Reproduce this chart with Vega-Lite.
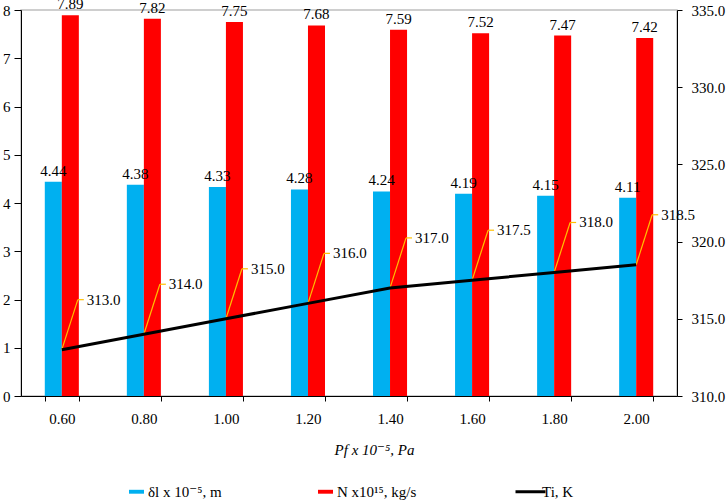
{
  "$schema": "https://vega.github.io/schema/vega-lite/v6.json",
  "width": 656,
  "height": 386,
  "autosize": {"type": "none"},
  "padding": {"left": 21, "top": 10, "right": 49, "bottom": 106},
  "config": {
    "font": "'Liberation Serif', 'DejaVu Serif', serif",
    "text": {"font": "'Liberation Serif', 'DejaVu Serif', serif"},
    "view": {"stroke": "#bfbfbf", "strokeWidth": 1.5},
    "axis": {
      "labelFont": "'Liberation Serif', 'DejaVu Serif', serif",
      "titleFont": "'Liberation Serif', 'DejaVu Serif', serif",
      "labelFontSize": 15,
      "labelColor": "black",
      "domainColor": "black",
      "tickColor": "black",
      "grid": false
    },
    "legend": {
      "labelFont": "'Liberation Serif', 'DejaVu Serif', serif"
    }
  },
  "datasets": {
    "bars": [
      {"P": "0.60", "series": "δl  x 10⁻⁵, m", "value": 4.44},
      {"P": "0.80", "series": "δl  x 10⁻⁵, m", "value": 4.38},
      {"P": "1.00", "series": "δl  x 10⁻⁵, m", "value": 4.33},
      {"P": "1.20", "series": "δl  x 10⁻⁵, m", "value": 4.28},
      {"P": "1.40", "series": "δl  x 10⁻⁵, m", "value": 4.24},
      {"P": "1.60", "series": "δl  x 10⁻⁵, m", "value": 4.19},
      {"P": "1.80", "series": "δl  x 10⁻⁵, m", "value": 4.15},
      {"P": "2.00", "series": "δl  x 10⁻⁵, m", "value": 4.11},
      {"P": "0.60", "series": "N x10¹⁵, kg/s", "value": 7.89},
      {"P": "0.80", "series": "N x10¹⁵, kg/s", "value": 7.82},
      {"P": "1.00", "series": "N x10¹⁵, kg/s", "value": 7.75},
      {"P": "1.20", "series": "N x10¹⁵, kg/s", "value": 7.68},
      {"P": "1.40", "series": "N x10¹⁵, kg/s", "value": 7.59},
      {"P": "1.60", "series": "N x10¹⁵, kg/s", "value": 7.52},
      {"P": "1.80", "series": "N x10¹⁵, kg/s", "value": 7.47},
      {"P": "2.00", "series": "N x10¹⁵, kg/s", "value": 7.42}
    ],
    "ti": [
      {"P": "0.60", "Ti": 313.0},
      {"P": "0.80", "Ti": 314.0},
      {"P": "1.00", "Ti": 315.0},
      {"P": "1.20", "Ti": 316.0},
      {"P": "1.40", "Ti": 317.0},
      {"P": "1.60", "Ti": 317.5},
      {"P": "1.80", "Ti": 318.0},
      {"P": "2.00", "Ti": 318.5}
    ]
  },
  "encoding": {
    "x": {
      "field": "P",
      "type": "nominal",
      "sort": null,
      "scale": {"paddingInner": 0.585, "paddingOuter": 0.29},
      "axis": {
        "title": "Pf x 10⁻⁵, Pa",
        "titleFontSize": 15,
        "titleFontStyle": "italic",
        "titleFontWeight": "normal",
        "titleColor": "black",
        "titlePadding": 16,
        "titleX": 353,
        "labelAngle": 0,
        "labelPadding": 10,
        "tickBand": "extent",
        "tickSize": 5
      }
    }
  },
  "layer": [
    {
      "data": {"name": "bars"},
      "encoding": {
        "xOffset": {"field": "series", "type": "nominal", "sort": null},
        "y": {
          "field": "value",
          "type": "quantitative",
          "title": null,
          "scale": {"domain": [0, 8]},
          "axis": {"orient": "left", "values": [0, 1, 2, 3, 4, 5, 6, 7, 8], "tickSize": 7, "labelPadding": 4}
        }
      },
      "layer": [
        {
          "mark": {"type": "bar"},
          "encoding": {
            "color": {
              "field": "series",
              "type": "nominal",
              "scale": {
                "domain": ["δl  x 10⁻⁵, m", "N x10¹⁵, kg/s", "Ti, K"],
                "range": ["#00B0F0", "#FF0000", "#000000"]
              },
              "legend": {
                "title": null,
                "orient": "none",
                "direction": "horizontal",
                "legendX": 108,
                "legendY": 474,
                "labelFontSize": 15,
                "labelColor": "black",
                "symbolSize": 900,
                "labelOffset": 4,
                "columnPadding": 92,
                "encode": {
                  "symbols": {
                    "update": {
                      "shape": {"signal": "datum.value === 'Ti, K' ? 'stroke' : 'M-0.5,-0.13H0.5V0.13H-0.5Z'"},
                      "fill": {"signal": "datum.value === 'Ti, K' ? 'transparent' : scale('color', datum.value)"},
                      "stroke": {"signal": "scale('color', datum.value)"},
                      "strokeWidth": {"signal": "datum.value === 'Ti, K' ? 3 : 0"},
                      "opacity": {"value": 1}
                    }
                  }
                }
              }
            }
          }
        },
        {
          "mark": {"type": "text", "baseline": "alphabetic", "dy": -6, "fontSize": 15, "color": "black"},
          "encoding": {
            "text": {"field": "value", "type": "quantitative", "format": ".2f"}
          }
        }
      ]
    },
    {
      "data": {"name": "ti"},
      "encoding": {
        "y": {
          "field": "Ti",
          "type": "quantitative",
          "title": null,
          "scale": {"domain": [310, 335]},
          "axis": {"orient": "right", "values": [310, 315, 320, 325, 330, 335], "format": ".1f", "tickSize": 5, "labelPadding": 9}
        }
      },
      "layer": [
        {
          "mark": {"type": "rule", "color": "#FFC000", "strokeWidth": 1.2, "x2Offset": 16, "y2Offset": -50},
          "encoding": {"x2": {"field": "P"}, "y2": {"field": "Ti"}}
        },
        {
          "mark": {"type": "rule", "color": "#FFC000", "strokeWidth": 1.2, "xOffset": 16, "x2Offset": 22, "yOffset": -50, "y2Offset": -50},
          "encoding": {"x2": {"field": "P"}, "y2": {"field": "Ti"}}
        },
        {
          "mark": {"type": "line", "color": "black", "strokeWidth": 3},
          "encoding": {"color": {"datum": "Ti, K"}}
        },
        {
          "mark": {"type": "text", "align": "left", "baseline": "middle", "dx": 25, "dy": -50, "fontSize": 15, "color": "black"},
          "encoding": {"text": {"field": "Ti", "type": "quantitative", "format": ".1f"}}
        }
      ]
    }
  ],
  "resolve": {"scale": {"y": "independent"}}
}
